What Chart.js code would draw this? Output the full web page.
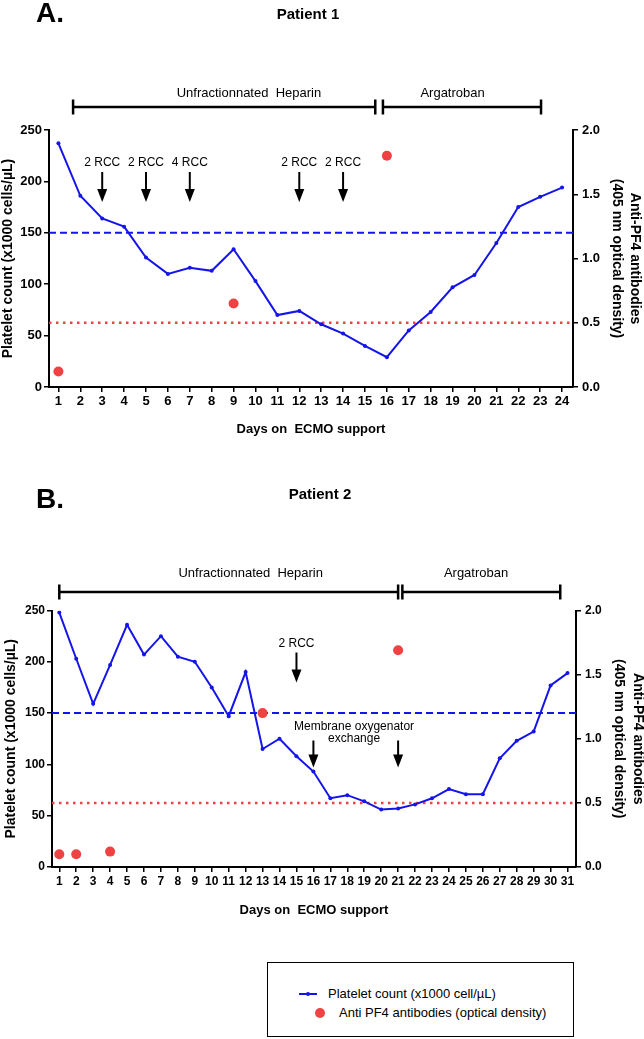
<!DOCTYPE html>
<html>
<head>
<meta charset="utf-8">
<script src="https://cdn.jsdelivr.net/npm/chart.js@4.4.1/dist/chart.umd.min.js"></script>
<style>
  html, body { margin: 0; padding: 0; background: #fff; }
  body { width: 644px; height: 1039px; position: relative; overflow: hidden; font-family: "Liberation Sans", Arial, sans-serif; }
  canvas { position: absolute; left: 0; }
  #chartA { top: 0; }
  #chartB { top: 440px; }
  #legend { position: absolute; left: 267px; top: 962px; width: 307px; height: 75px; border: 1.5px solid #000; box-sizing: border-box; }
  #legend .swatch-line { position: absolute; left: 31px; top: 30px; width: 18px; height: 2px; background: rgb(20,20,235); }
  #legend .swatch-pt { position: absolute; left: 38px; top: 29px; width: 4px; height: 4px; border-radius: 50%; background: rgb(20,20,235); }
  #legend .swatch-dot { position: absolute; left: 47px; top: 45px; width: 10px; height: 10px; border-radius: 50%; background: rgb(240,66,66); }
  #legend .txt { position: absolute; font-size: 13px; line-height: 16px; color: #000; white-space: nowrap; }
</style>
</head>
<body>
<canvas id="chartA" width="644" height="440"></canvas>
<canvas id="chartB" width="644" height="480"></canvas>
<div id="legend">
  <div class="swatch-line"></div><div class="swatch-pt"></div>
  <div class="txt" style="left:60px; top:23px;">Platelet count (x1000 cell/µL)</div>
  <div class="swatch-dot"></div>
  <div class="txt" style="left:71px; top:42px;">Anti PF4 antibodies (optical density)</div>
</div>
<script>
// Patient 1
const daysA = [1, 2, 3, 4, 5, 6, 7, 8, 9, 10, 11, 12, 13, 14, 15, 16, 17, 18, 19, 20, 21, 22, 23, 24];
const plateletA = [237, 186, 164, 156, 126, 110, 116, 113, 134, 103, 70, 74, 61, 52, 40, 29, 55, 73, 97, 109, 140, 175, 185, 194];
const pf4DaysA = [1, 9, 16];
const pf4A = [0.12, 0.65, 1.80];
const rccDaysA = [3, 5, 7, 12, 14];
const rccLabelsA = ['2 RCC', '2 RCC', '4 RCC', '2 RCC', '2 RCC'];
const treatStartA = [1.67, 15.82];
const treatEndA = [15.47, 23.04];
const treatLabelDayA = [9.7, 19.0];

// Patient 2
const daysB = [1, 2, 3, 4, 5, 6, 7, 8, 9, 10, 11, 12, 13, 14, 15, 16, 17, 18, 19, 20, 21, 22, 23, 24, 25, 26, 27, 28, 29, 30, 31];
const plateletB = [248, 203, 159, 197, 236, 207, 225, 205, 200, 175, 147, 190, 115, 125, 108, 93, 67, 70, 64, 56, 57, 61, 67, 76, 71, 71, 106, 123, 132, 177, 189];
const pf4DaysB = [1, 2, 4, 13, 21];
const pf4B = [0.10, 0.10, 0.12, 1.20, 1.69];
const rccDaysB = [15];
const rccLabelsB = ['2 RCC'];
const oxygenatorDaysB = [16, 21];
const treatStartB = [1.0, 21.25];
const treatEndB = [21.0, 30.57];
const treatLabelDayB = [12.3, 25.6];

const treatNames = ['Unfractionnated  Heparin', 'Argatroban'];
const plateletLimit = 150;
const pf4Limit = 0.5;

const FAMILY = '"Liberation Sans", Arial, sans-serif';
const BLUE = 'rgb(20,20,235)';
const RED = 'rgb(240,66,66)';
Chart.defaults.font.family = FAMILY;
Chart.defaults.color = '#000';

function arrow(ctx, x, yTop, yTip) {
    ctx.lineWidth = 2;
    ctx.beginPath();
    ctx.moveTo(x, yTop);
    ctx.lineTo(x, yTip - 10);
    ctx.stroke();
    ctx.beginPath();
    ctx.moveTo(x - 5, yTip - 13);
    ctx.lineTo(x + 5, yTip - 13);
    ctx.lineTo(x, yTip);
    ctx.closePath();
    ctx.fill();
}

const overlay = {
    id: 'overlay',
    beforeDatasetsDraw(chart, args, o) {
        const { ctx, chartArea: a, scales } = chart;
        ctx.save();
        ctx.lineWidth = 2;
        ctx.strokeStyle = BLUE;
        ctx.setLineDash([7, 4]);
        let py = scales.y.getPixelForValue(plateletLimit);
        ctx.beginPath(); ctx.moveTo(a.left, py); ctx.lineTo(a.right, py); ctx.stroke();
        ctx.strokeStyle = RED;
        ctx.lineWidth = 2.5;
        ctx.setLineDash([2.5, 4.5]);
        py = scales.y1.getPixelForValue(pf4Limit);
        ctx.beginPath(); ctx.moveTo(a.left, py); ctx.lineTo(a.right, py); ctx.stroke();
        ctx.restore();
    },
    afterDraw(chart, args, o) {
        const { ctx, chartArea: a } = chart;
        const x = chart.scales.x;
        ctx.save();
        ctx.fillStyle = '#000';
        ctx.strokeStyle = '#000';
        ctx.textBaseline = 'middle';

        ctx.font = 'bold 28px ' + FAMILY;
        ctx.textAlign = 'left';
        ctx.fillText(o.letter, 36, o.letterY);
        ctx.font = 'bold 15px ' + FAMILY;
        ctx.textAlign = 'center';
        ctx.fillText(o.title, o.titleX, o.titleY);

        // treatment periods
        const barY = a.top - o.barGap;
        ctx.lineWidth = 2.5;
        ctx.font = '13px ' + FAMILY;
        o.treatStart.forEach((s, i) => {
            const x0 = x.getPixelForValue(s), x1 = x.getPixelForValue(o.treatEnd[i]);
            ctx.beginPath();
            ctx.moveTo(x0, barY); ctx.lineTo(x1, barY);
            ctx.moveTo(x0, barY - 7.5); ctx.lineTo(x0, barY + 7.5);
            ctx.moveTo(x1, barY - 7.5); ctx.lineTo(x1, barY + 7.5);
            ctx.stroke();
            ctx.fillText(treatNames[i], x.getPixelForValue(o.treatLabelDay[i]), barY - o.treatTextGap);
        });

        // transfusions
        ctx.font = '12px ' + FAMILY;
        o.rccDays.forEach((d, i) => {
            const px = x.getPixelForValue(d);
            ctx.fillText(o.rccLabels[i], px, a.top + 33);
            arrow(ctx, px, a.top + 42, a.top + 72);
        });

        if (o.oxyDays) {
            o.oxyDays.forEach(d => {
                arrow(ctx, x.getPixelForValue(d), a.top + 130, a.top + 157);
            });
            const cx = x.getPixelForValue(18.4);
            ctx.fillText('Membrane oxygenator', cx, a.top + 116);
            ctx.fillText('exchange', cx, a.top + 128.5);
        }
        ctx.restore();
    }
};

function makeChart(id, days, platelet, pf4Days, pf4, opt) {
    const ctx = document.getElementById(id).getContext('2d');
    return new Chart(ctx, {
        type: 'line',
        data: {
            datasets: [{
                label: 'Anti PF4 antibodies (optical density)',
                type: 'scatter',
                yAxisID: 'y1',
                data: pf4Days.map((d, i) => ({ x: d, y: pf4[i] })),
                pointRadius: 5,
                pointBackgroundColor: RED,
                pointBorderWidth: 0,
                order: 0
            }, {
                label: 'Platelet count (x1000 cell/µL)',
                yAxisID: 'y',
                data: days.map((d, i) => ({ x: d, y: platelet[i] })),
                borderColor: BLUE,
                borderWidth: 2,
                pointRadius: 2,
                pointBackgroundColor: BLUE,
                pointBorderWidth: 0,
                tension: 0,
                order: 1
            }]
        },
        options: {
            responsive: false,
            animation: false,
            layout: { padding: { top: opt.top, left: 0, right: 0, bottom: 0 } },
            plugins: {
                legend: { display: false },
                tooltip: { enabled: false },
                overlay: opt.overlay
            },
            scales: {
                x: {
                    type: 'linear',
                    min: opt.xMin,
                    max: opt.xMax,
                    afterBuildTicks: s => { s.ticks = days.map(v => ({ value: v })); },
                    afterFit: s => { s.height = 53; },
                    ticks: { autoSkip: false, maxRotation: 0, minRotation: 0, padding: 2,
                        font: { size: opt.xTickSize, weight: 'bold' }, callback: v => String(v) },
                    grid: { drawOnChartArea: false, tickLength: 5, color: '#000', lineWidth: 1.5 },
                    border: { color: '#000', width: 2 },
                    title: { display: true, text: 'Days on  ECMO support', font: { size: 13, weight: 'bold' },
                        padding: { top: 0, bottom: opt.xTitlePad } }
                },
                y: {
                    position: 'left',
                    min: 0, max: 250,
                    afterFit: s => { s.width = opt.leftW; },
                    ticks: { stepSize: 50, padding: 2, font: { size: opt.yTickSize, weight: 'bold' } },
                    grid: { drawOnChartArea: false, tickLength: 5, color: '#000', lineWidth: 1.5 },
                    border: { color: '#000', width: 2 },
                    title: { display: true, text: 'Platelet count (x1000 cells/µL)', font: { size: 14, weight: 'bold' },
                        padding: { top: opt.leftTitlePad, bottom: 0 } }
                },
                y1: {
                    position: 'right',
                    min: 0, max: 2,
                    afterFit: s => { s.width = opt.rightW; },
                    ticks: { stepSize: 0.5, padding: 4, font: { size: opt.yTickSize, weight: 'bold' },
                        callback: v => v.toFixed(1) },
                    grid: { drawOnChartArea: false, tickLength: 5, color: '#000', lineWidth: 1.5 },
                    border: { color: '#000', width: 2 },
                    title: { display: true, text: ['Anti-PF4 antibodies', '(405 nm optical density)'],
                        font: { size: 14, weight: 'bold', lineHeight: 1.3 },
                        padding: { top: opt.rightTitlePad, bottom: 0 } }
                }
            }
        },
        plugins: [overlay]
    });
}

makeChart('chartA', daysA, plateletA, pf4DaysA, pf4A, {
    top: 130, xMin: 0.57, xMax: 24.5, leftW: 49, rightW: 71,
    xTickSize: 13, yTickSize: 13, xTitlePad: 3, leftTitlePad: 0, rightTitlePad: 0,
    overlay: {
        letter: 'A.', letterY: 14, title: 'Patient 1', titleX: 308, titleY: 15,
        barGap: 23, treatTextGap: 14,
        treatStart: treatStartA, treatEnd: treatEndA, treatLabelDay: treatLabelDayA,
        rccDays: rccDaysA, rccLabels: rccLabelsA
    }
});

makeChart('chartB', daysB, plateletB, pf4DaysB, pf4B, {
    top: 170.5, xMin: 0.57, xMax: 31.5, leftW: 52, rightW: 68,
    xTickSize: 12, yTickSize: 12, xTitlePad: 2, leftTitlePad: 3, rightTitlePad: -2.5,
    overlay: {
        letter: 'B.', letterY: 60, title: 'Patient 2', titleX: 320, titleY: 55,
        barGap: 18.5, treatTextGap: 19,
        treatStart: treatStartB, treatEnd: treatEndB, treatLabelDay: treatLabelDayB,
        rccDays: rccDaysB, rccLabels: rccLabelsB, oxyDays: oxygenatorDaysB
    }
});
</script>
</body>
</html>
